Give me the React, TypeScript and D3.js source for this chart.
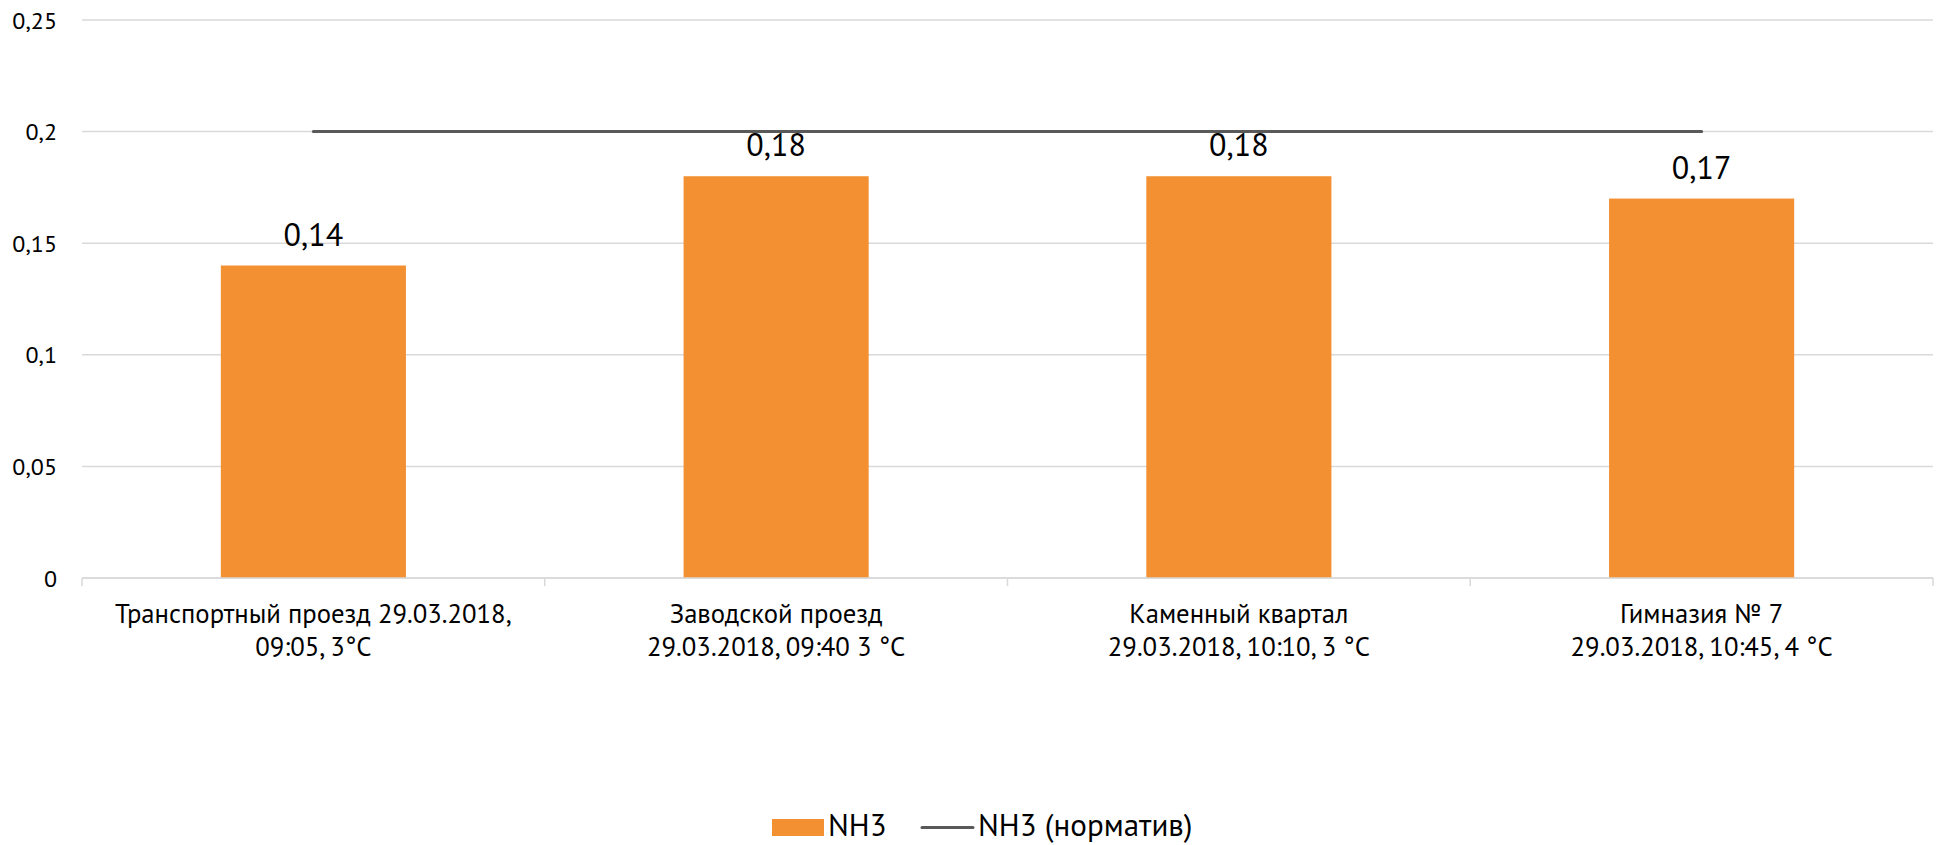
import React from "react";
import * as d3 from "d3";

const categories = ["c1", "c2", "c3", "c4"];
const categoryLines: string[][] = [
  ["Транспортный проезд 29.03.2018,", "09:05, 3°C"],
  ["Заводской проезд", "29.03.2018, 09:40 3 °C"],
  ["Каменный квартал", "29.03.2018, 10:10, 3 °C"],
  ["Гимназия № 7", "29.03.2018, 10:45, 4 °C"],
];
const nh3Values = [0.14, 0.18, 0.18, 0.17];
const normValues = [0.2, 0.2, 0.2, 0.2];
const yTicks = [0, 0.05, 0.1, 0.15, 0.2, 0.25];
const legendLabels = ["NH3", "NH3 (норматив)"];

const W = 1941;
const H = 845;
const FONT = "'PT Sans', 'Open Sans', Roboto, sans-serif";
const BAR = "#F29032";
const LINE = "#595959";
const GRID = "#D9D9D9";

const fmt = (v: number) => String(+v.toFixed(2)).replace(".", ",");

export default function App() {
  const left = 82;
  const right = 1933;
  const top = 20;
  const bottom = 578;

  const x = d3
    .scaleBand<string>()
    .domain(categories)
    .range([left, right])
    .paddingInner(0.6)
    .paddingOuter(0.3);
  const y = d3.scaleLinear().domain([0, 0.25]).range([bottom, top]);

  const line = d3
    .line<number>()
    .x((_, i) => (x(categories[i]) as number) + x.bandwidth() / 2)
    .y((d) => y(d));

  const boundaries = d3.range(categories.length + 1).map((i) => left + i * ((right - left) / categories.length));

  return (
    <svg
      width={W}
      height={H}
      style={{ position: "absolute", left: 0, top: 0, background: "#fff" }}
      fontFamily={FONT}
    >
      {yTicks.map((t) => (
        <line key={"g" + t} x1={left} x2={right} y1={y(t)} y2={y(t)} stroke={GRID} strokeWidth={1.5} />
      ))}
      {yTicks.map((t) => (
        <text
          key={"yl" + t}
          x={57}
          y={y(t)}
          textAnchor="end"
          dominantBaseline="central"
          fontSize={24}
          fill="#000"
        >
          {fmt(t)}
        </text>
      ))}
      {nh3Values.map((v, i) => (
        <rect
          key={"b" + i}
          x={x(categories[i])}
          y={y(v)}
          width={x.bandwidth()}
          height={y(0) - y(v)}
          fill={BAR}
        />
      ))}
      <line x1={left} x2={right} y1={bottom} y2={bottom} stroke={GRID} strokeWidth={1.5} />
      {boundaries.map((bx, i) => (
        <line key={"t" + i} x1={bx} x2={bx} y1={bottom} y2={bottom + 8} stroke={GRID} strokeWidth={1.5} />
      ))}
      <path d={line(normValues) || ""} fill="none" stroke={LINE} strokeWidth={3} strokeLinecap="round" />
      {nh3Values.map((v, i) => (
        <text
          key={"v" + i}
          x={(x(categories[i]) as number) + x.bandwidth() / 2}
          y={y(v) - 20}
          textAnchor="middle"
          fontSize={32}
          fill="#000"
        >
          {fmt(v)}
        </text>
      ))}
      {categoryLines.map((lines, i) => (
        <text
          key={"c" + i}
          x={(x(categories[i]) as number) + x.bandwidth() / 2}
          y={623}
          textAnchor="middle"
          fontSize={26.7}
          fill="#000"
        >
          {lines.map((ln, j) => (
            <tspan key={j} x={(x(categories[i]) as number) + x.bandwidth() / 2} dy={j === 0 ? 0 : 33}>
              {ln}
            </tspan>
          ))}
        </text>
      ))}
      <rect x={772} y={819} width={52} height={17} fill={BAR} />
      <text x={828} y={836} fontSize={31} fill="#000">
        {legendLabels[0]}
      </text>
      <line x1={922} x2={973} y1={827.5} y2={827.5} stroke={LINE} strokeWidth={3} strokeLinecap="round" />
      <text x={978} y={836} fontSize={31} fill="#000">
        {legendLabels[1]}
      </text>
    </svg>
  );
}
